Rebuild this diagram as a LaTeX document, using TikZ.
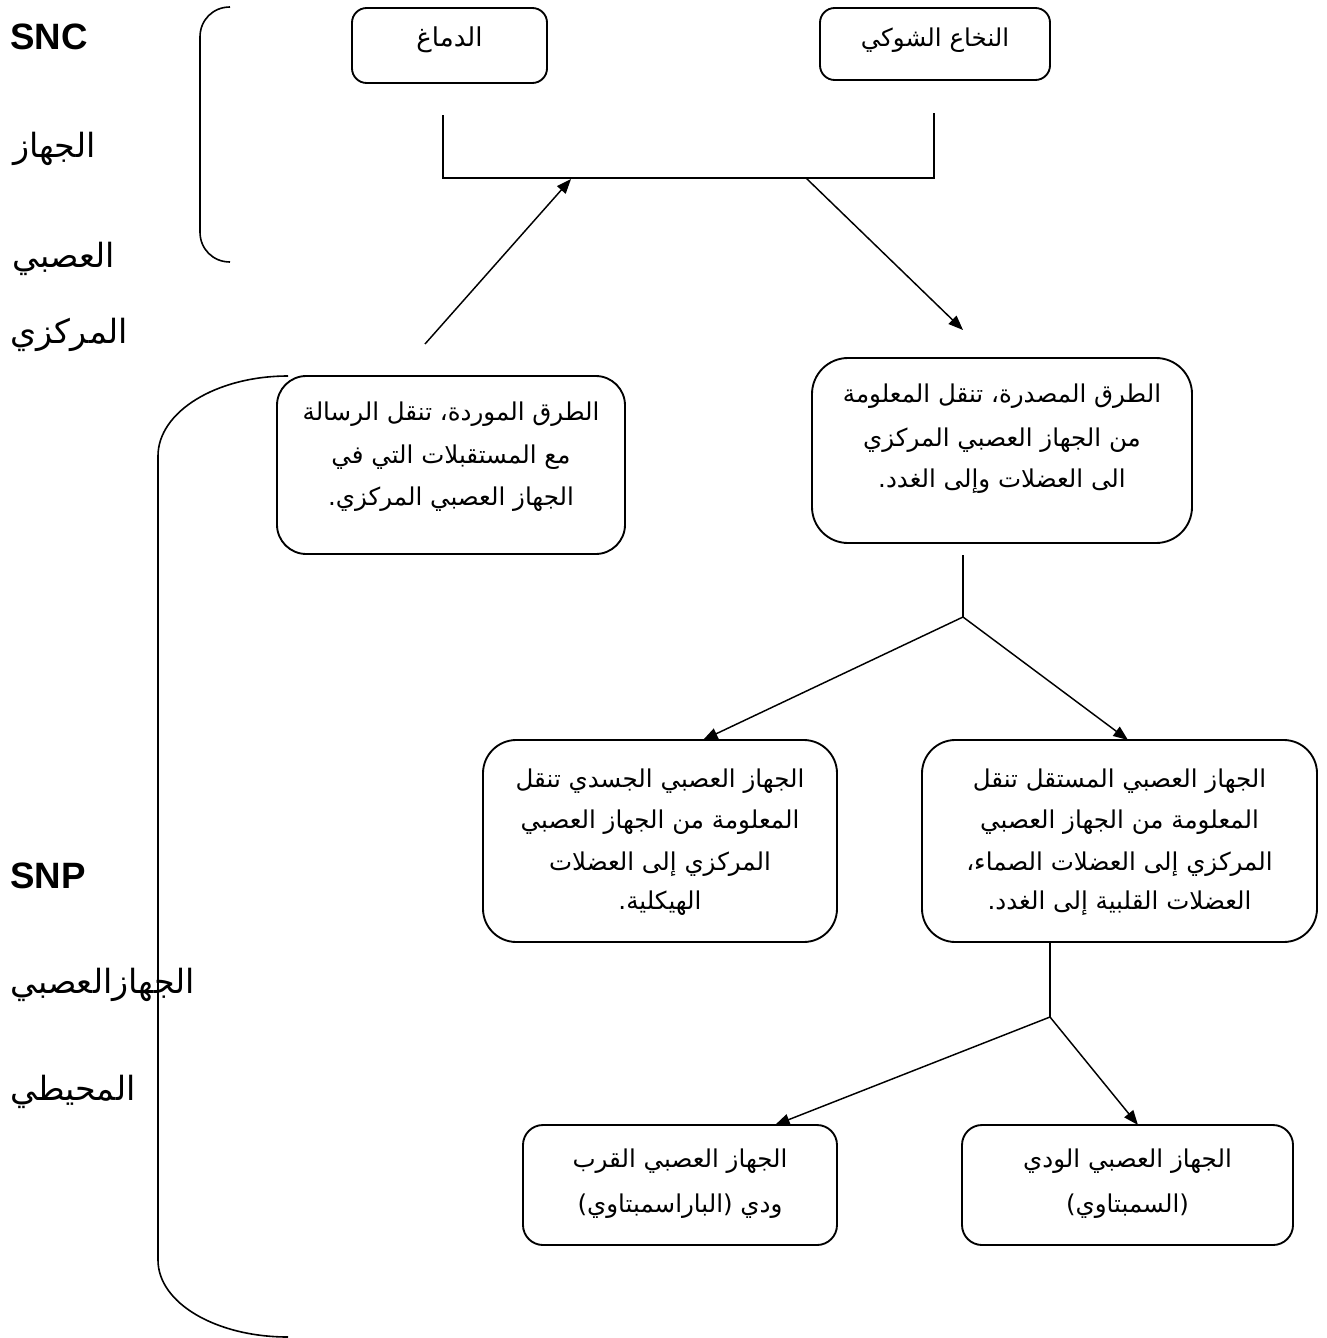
\documentclass[tikz,border=0pt]{standalone}
\usepackage{fontspec}
\setmainfont{Liberation Sans}
\newfontfamily\ar[Script=Arabic]{DejaVu Sans}
\TeXXeTstate=1
\usetikzlibrary{arrows.meta,fit}
\newcommand\RL[1]{\beginR#1\endR}
\begin{document}
\begin{tikzpicture}[x=0.75pt,y=-0.75pt,
  box/.style={draw, line width=1.4pt, rounded corners=#1, inner sep=0pt},
  txt/.style={inner sep=0pt, anchor=base, font=\ar\fontsize{18.4}{22}\selectfont},
  side/.style={inner sep=0pt, anchor=base west, font=\ar\fontsize{25}{30}\selectfont},
  lat/.style={inner sep=0pt, anchor=base west, font=\bfseries\fontsize{27.5}{32}\selectfont},
  brace/.style={line width=1.2pt},
  link/.style={line width=1.1pt},
  arr/.style={line width=1.1pt, -{Triangle[length=11pt,width=8.5pt]}}]
\useasboundingbox (0,0) rectangle (1327,1338);

% boxes
\node[box=11pt, fit={(352,8) (547,83)}] (brain) {};
\node[box=11pt, fit={(820,8) (1050,80)}] (spinal) {};
\node[box=22pt, fit={(277,376) (625,554)}] (aff) {};
\node[box=27pt, fit={(812,358) (1192,543)}] (eff) {};
\node[box=25pt, fit={(483,740) (837,942)}] (som) {};
\node[box=25pt, fit={(922,740) (1317,942)}] (aut) {};
\node[box=15pt, fit={(523,1125) (837,1245)}] (para) {};
\node[box=15pt, fit={(962,1125) (1293,1245)}] (symp) {};

% box texts
\node[txt, font=\ar\fontsize{19.5}{23}\selectfont] (brain-t) at (449.5,47) {\RL{الدماغ}};
\node[txt] (spinal-t) at (935,47) {\RL{النخاع الشوكي}};

\node[txt] (aff-1) at (451,420) {\RL{الطرق الموردة، تنقل الرسالة}};
\node[txt] (aff-2) at (451,463) {\RL{مع المستقبلات التي في}};
\node[txt] (aff-3) at (451,505) {\RL{الجهاز العصبي المركزي.}};

\node[txt] (eff-1) at (1002,402) {\RL{الطرق المصدرة، تنقل المعلومة}};
\node[txt] (eff-2) at (1002,446) {\RL{من الجهاز العصبي المركزي}};
\node[txt] (eff-3) at (1002,487) {\RL{الى العضلات وإلى الغدد.}};

\node[txt] (som-1) at (660,787) {\RL{الجهاز العصبي الجسدي تنقل}};
\node[txt] (som-2) at (660,828) {\RL{المعلومة من الجهاز العصبي}};
\node[txt] (som-3) at (660,870) {\RL{المركزي إلى العضلات}};
\node[txt] (som-4) at (660,909) {\RL{الهيكلية.}};

\node[txt] (aut-1) at (1119.5,787) {\RL{الجهاز العصبي المستقل تنقل}};
\node[txt] (aut-2) at (1119.5,828) {\RL{المعلومة من الجهاز العصبي}};
\node[txt] (aut-3) at (1119.5,870) {\RL{المركزي إلى العضلات الصماء،}};
\node[txt] (aut-4) at (1119.5,909) {\RL{العضلات القلبية إلى الغدد.}};

\node[txt] (para-1) at (680,1167) {\RL{الجهاز العصبي القرب}};
\node[txt] (para-2) at (680,1212) {\RL{ودي (الباراسمبتاوي)}};

\node[txt] (symp-1) at (1127.5,1167) {\RL{الجهاز العصبي الودي}};
\node[txt] (symp-2) at (1127.5,1212) {\RL{(السمبتاوي)}};

% side labels
\node[lat] (snc) at (10,50) {SNC};
\node[side] (snc-1) at (13,157) {\RL{الجهاز}};
\node[side] (snc-2) at (12,267) {\RL{العصبي}};
\node[side] (snc-3) at (10,343) {\RL{المركزي}};
\node[lat] (snp) at (10,888) {SNP};
\node[side] (snp-1) at (10,993) {\RL{الجهازالعصبي}};
\node[side] (snp-2) at (10,1100) {\RL{المحيطي}};

% braces
\draw[brace] (230,7) .. controls (213,7) and (200,20) .. (200,37) -- (200,232) .. controls (200,249) and (213,262) .. (230,262);
\draw[brace] (288,376) .. controls (216,376) and (158,412) .. (158,456) -- (158,1260) .. controls (158,1303) and (216,1337) .. (288,1337);

% connector points
\coordinate (j1) at (443,115);
\coordinate (j2) at (443,178);
\coordinate (j3) at (934,178);
\coordinate (j4) at (934,113);
\coordinate (u1) at (425,344);
\coordinate (u2) at (571,179);
\coordinate (d1) at (806,178);
\coordinate (d2) at (963,330);
\coordinate (b0) at (963,555);
\coordinate (b1) at (963,617);
\coordinate (b2) at (703,740);
\coordinate (b3) at (1128,740);
\coordinate (c0) at (1050,942);
\coordinate (c1) at (1050,1017);
\coordinate (c2) at (775,1125);
\coordinate (c3) at (1138,1125);

\draw[link] (j1) -- (j2) -- (j3) -- (j4);
\draw[arr] (u1) -- (u2);
\draw[arr] (d1) -- (d2);
\draw[link] (b0) -- (b1);
\draw[arr] (b1) -- (b2);
\draw[arr] (b1) -- (b3);
\draw[link] (c0) -- (c1);
\draw[arr] (c1) -- (c2);
\draw[arr] (c1) -- (c3);
\end{tikzpicture}
\end{document}
